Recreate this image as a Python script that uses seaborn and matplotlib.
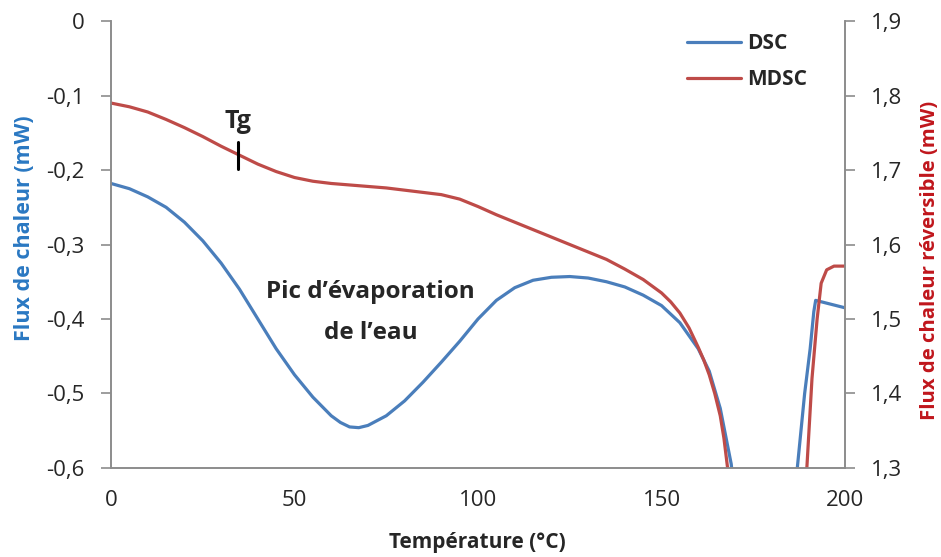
import numpy as np
import pandas as pd
import matplotlib
matplotlib.use("Agg")
import matplotlib.pyplot as plt
from matplotlib.ticker import MultipleLocator, FuncFormatter
from matplotlib.lines import Line2D
import seaborn as sns

# ----------------------------------------------
# Data
# ----------------------------------------------
temp_dsc = [0, 5, 10, 15, 20, 25, 30, 35, 40, 45, 50, 55, 60, 62.5, 65,
            67.5, 70, 75, 80, 85, 90, 95, 100, 105, 110, 115, 120, 125, 130,
            135, 140, 145, 150, 155, 160, 163, 166, 169, 172, 184, 187, 189,
            190.5, 191.5, 192, 196, 200]
flux_dsc = [-0.218, -0.225, -0.236, -0.25, -0.27, -0.295, -0.325, -0.36,
            -0.40, -0.44, -0.475, -0.505, -0.53, -0.539, -0.545, -0.546,
            -0.543, -0.53, -0.51, -0.485, -0.458, -0.43, -0.40, -0.375,
            -0.358, -0.348, -0.344, -0.343, -0.345, -0.35, -0.357, -0.368,
            -0.382, -0.405, -0.44, -0.47, -0.52, -0.595, -0.75, -0.75, -0.6,
            -0.5, -0.44, -0.39, -0.375, -0.38, -0.385]

temp_mdsc = [0, 5, 10, 15, 20, 25, 30, 35, 40, 45, 50, 55, 60, 65, 70, 75,
             80, 85, 90, 95, 100, 105, 110, 115, 120, 125, 130, 135, 140, 145,
             150, 152.5, 155, 157.5, 160, 161.5, 163, 164.5, 166, 167, 168,
             170, 188, 189.6, 191, 192.4, 193.5, 195, 197, 200]
flux_mdsc = [1.79, 1.785, 1.778, 1.768, 1.757, 1.745, 1.732, 1.72, 1.708,
             1.698, 1.69, 1.685, 1.682, 1.68, 1.678, 1.676, 1.673, 1.670,
             1.667, 1.661, 1.651, 1.64, 1.63, 1.62, 1.61, 1.60, 1.59, 1.58,
             1.567, 1.553, 1.535, 1.523, 1.508, 1.488, 1.462, 1.445, 1.425,
             1.40, 1.37, 1.34, 1.30, 1.20, 1.20, 1.30, 1.42, 1.50, 1.548,
             1.566, 1.571, 1.571]

series_labels = ["DSC", "MDSC"]
tg_temp = 34.6

# ----------------------------------------------
# Style
# ----------------------------------------------
sns.set_style("white")
plt.rcParams["font.family"] = ["Open Sans", "DejaVu Sans"]

BLUE = "#4a7ebb"
RED = "#be4b48"
AXIS = "#8c8c8c"
TEXT = "#262626"

df_dsc = pd.DataFrame({"T": temp_dsc, "flux": flux_dsc})
df_mdsc = pd.DataFrame({"T": temp_mdsc, "flux": flux_mdsc})

fig = plt.figure(figsize=(9.41, 5.57), dpi=100)
ax = fig.add_axes([0.118, 0.160, 0.780, 0.802])
ax2 = ax.twinx()

sns.lineplot(data=df_dsc, x="T", y="flux", ax=ax, color=BLUE, lw=2.3,
             sort=False, estimator=None)
sns.lineplot(data=df_mdsc, x="T", y="flux", ax=ax2, color=RED, lw=2.3,
             sort=False, estimator=None)


def fmt_comma(v, p):
    if abs(v) < 1e-9:
        return "0"
    return f"{v:.1f}".replace(".", ",")


ax.set_xlim(0, 200)
ax.set_ylim(-0.6, 0)
ax2.set_ylim(1.3, 1.9)
ax.yaxis.set_major_locator(MultipleLocator(0.1))
ax2.yaxis.set_major_locator(MultipleLocator(0.1))
ax.yaxis.set_major_formatter(FuncFormatter(fmt_comma))
ax2.yaxis.set_major_formatter(FuncFormatter(fmt_comma))
ax.xaxis.set_major_locator(MultipleLocator(50))
ax.xaxis.set_minor_locator(MultipleLocator(10))
ax.xaxis.set_major_formatter(FuncFormatter(lambda v, p: f"{v:.0f}"))

for a in (ax, ax2):
    a.spines["top"].set_visible(False)
    for s in ("left", "right", "bottom"):
        a.spines[s].set_color(AXIS)
        a.spines[s].set_linewidth(1.2)
    a.grid(False)

ax.tick_params(axis="x", which="major", direction="inout", length=12,
               width=1.2, color=AXIS, labelsize=16, labelcolor=TEXT, pad=10)
ax.tick_params(axis="x", which="minor", direction="in", length=5,
               width=1.2, color=AXIS)
ax.tick_params(axis="y", direction="out", length=7, width=1.2, color=AXIS,
               labelsize=16, labelcolor=TEXT, pad=12)
ax2.tick_params(axis="y", direction="out", length=7, width=1.2, color=AXIS,
                labelsize=16, labelcolor=TEXT, pad=12)

ax.set_xlabel("Température (°C)", fontsize=15, fontweight="bold", color=TEXT)
ax.xaxis.set_label_coords(0.499, -0.168)
ax.xaxis.label.set_va("center")

ax.set_ylabel("Flux de chaleur (mW)", fontsize=15.5, fontweight="bold",
              color="#2a78c2")
ax.yaxis.set_label_coords(-0.118, 0.537)
ax.yaxis.label.set_va("center")

ax2.set_ylabel("Flux de chaleur réversible (mW)", fontsize=14.6,
               fontweight="bold", color="#c0161c")
ax2.yaxis.set_label_coords(1.116, 0.465)
ax2.yaxis.label.set_va("center")

# annotations
ax2.plot([tg_temp, tg_temp], [1.701, 1.7376], color="black", lw=2.2)
ax.text(tg_temp, -0.135, "Tg", ha="center", va="center", fontsize=18,
        fontweight="bold", color=TEXT)
ax.text(70.8, -0.364, "Pic d\u2019évaporation", ha="center", va="center",
        fontsize=17.5, fontweight="bold", color=TEXT)
ax.text(70.8, -0.419, "de l\u2019eau", ha="center", va="center",
        fontsize=17.5, fontweight="bold", color=TEXT)

handles = [Line2D([], [], color=BLUE, lw=2.3), Line2D([], [], color=RED, lw=2.3)]
leg = ax2.legend(handles, series_labels, loc="upper left",
                 bbox_to_anchor=(0.730, 0.941), bbox_transform=fig.transFigure,
                 frameon=False, handlelength=2.6, handletextpad=0.3,
                 labelspacing=0.75, borderpad=0, borderaxespad=0,
                 prop={"weight": "bold", "size": 15})
for t in leg.get_texts():
    t.set_color(TEXT)

fig.savefig("out.png", dpi=100)
